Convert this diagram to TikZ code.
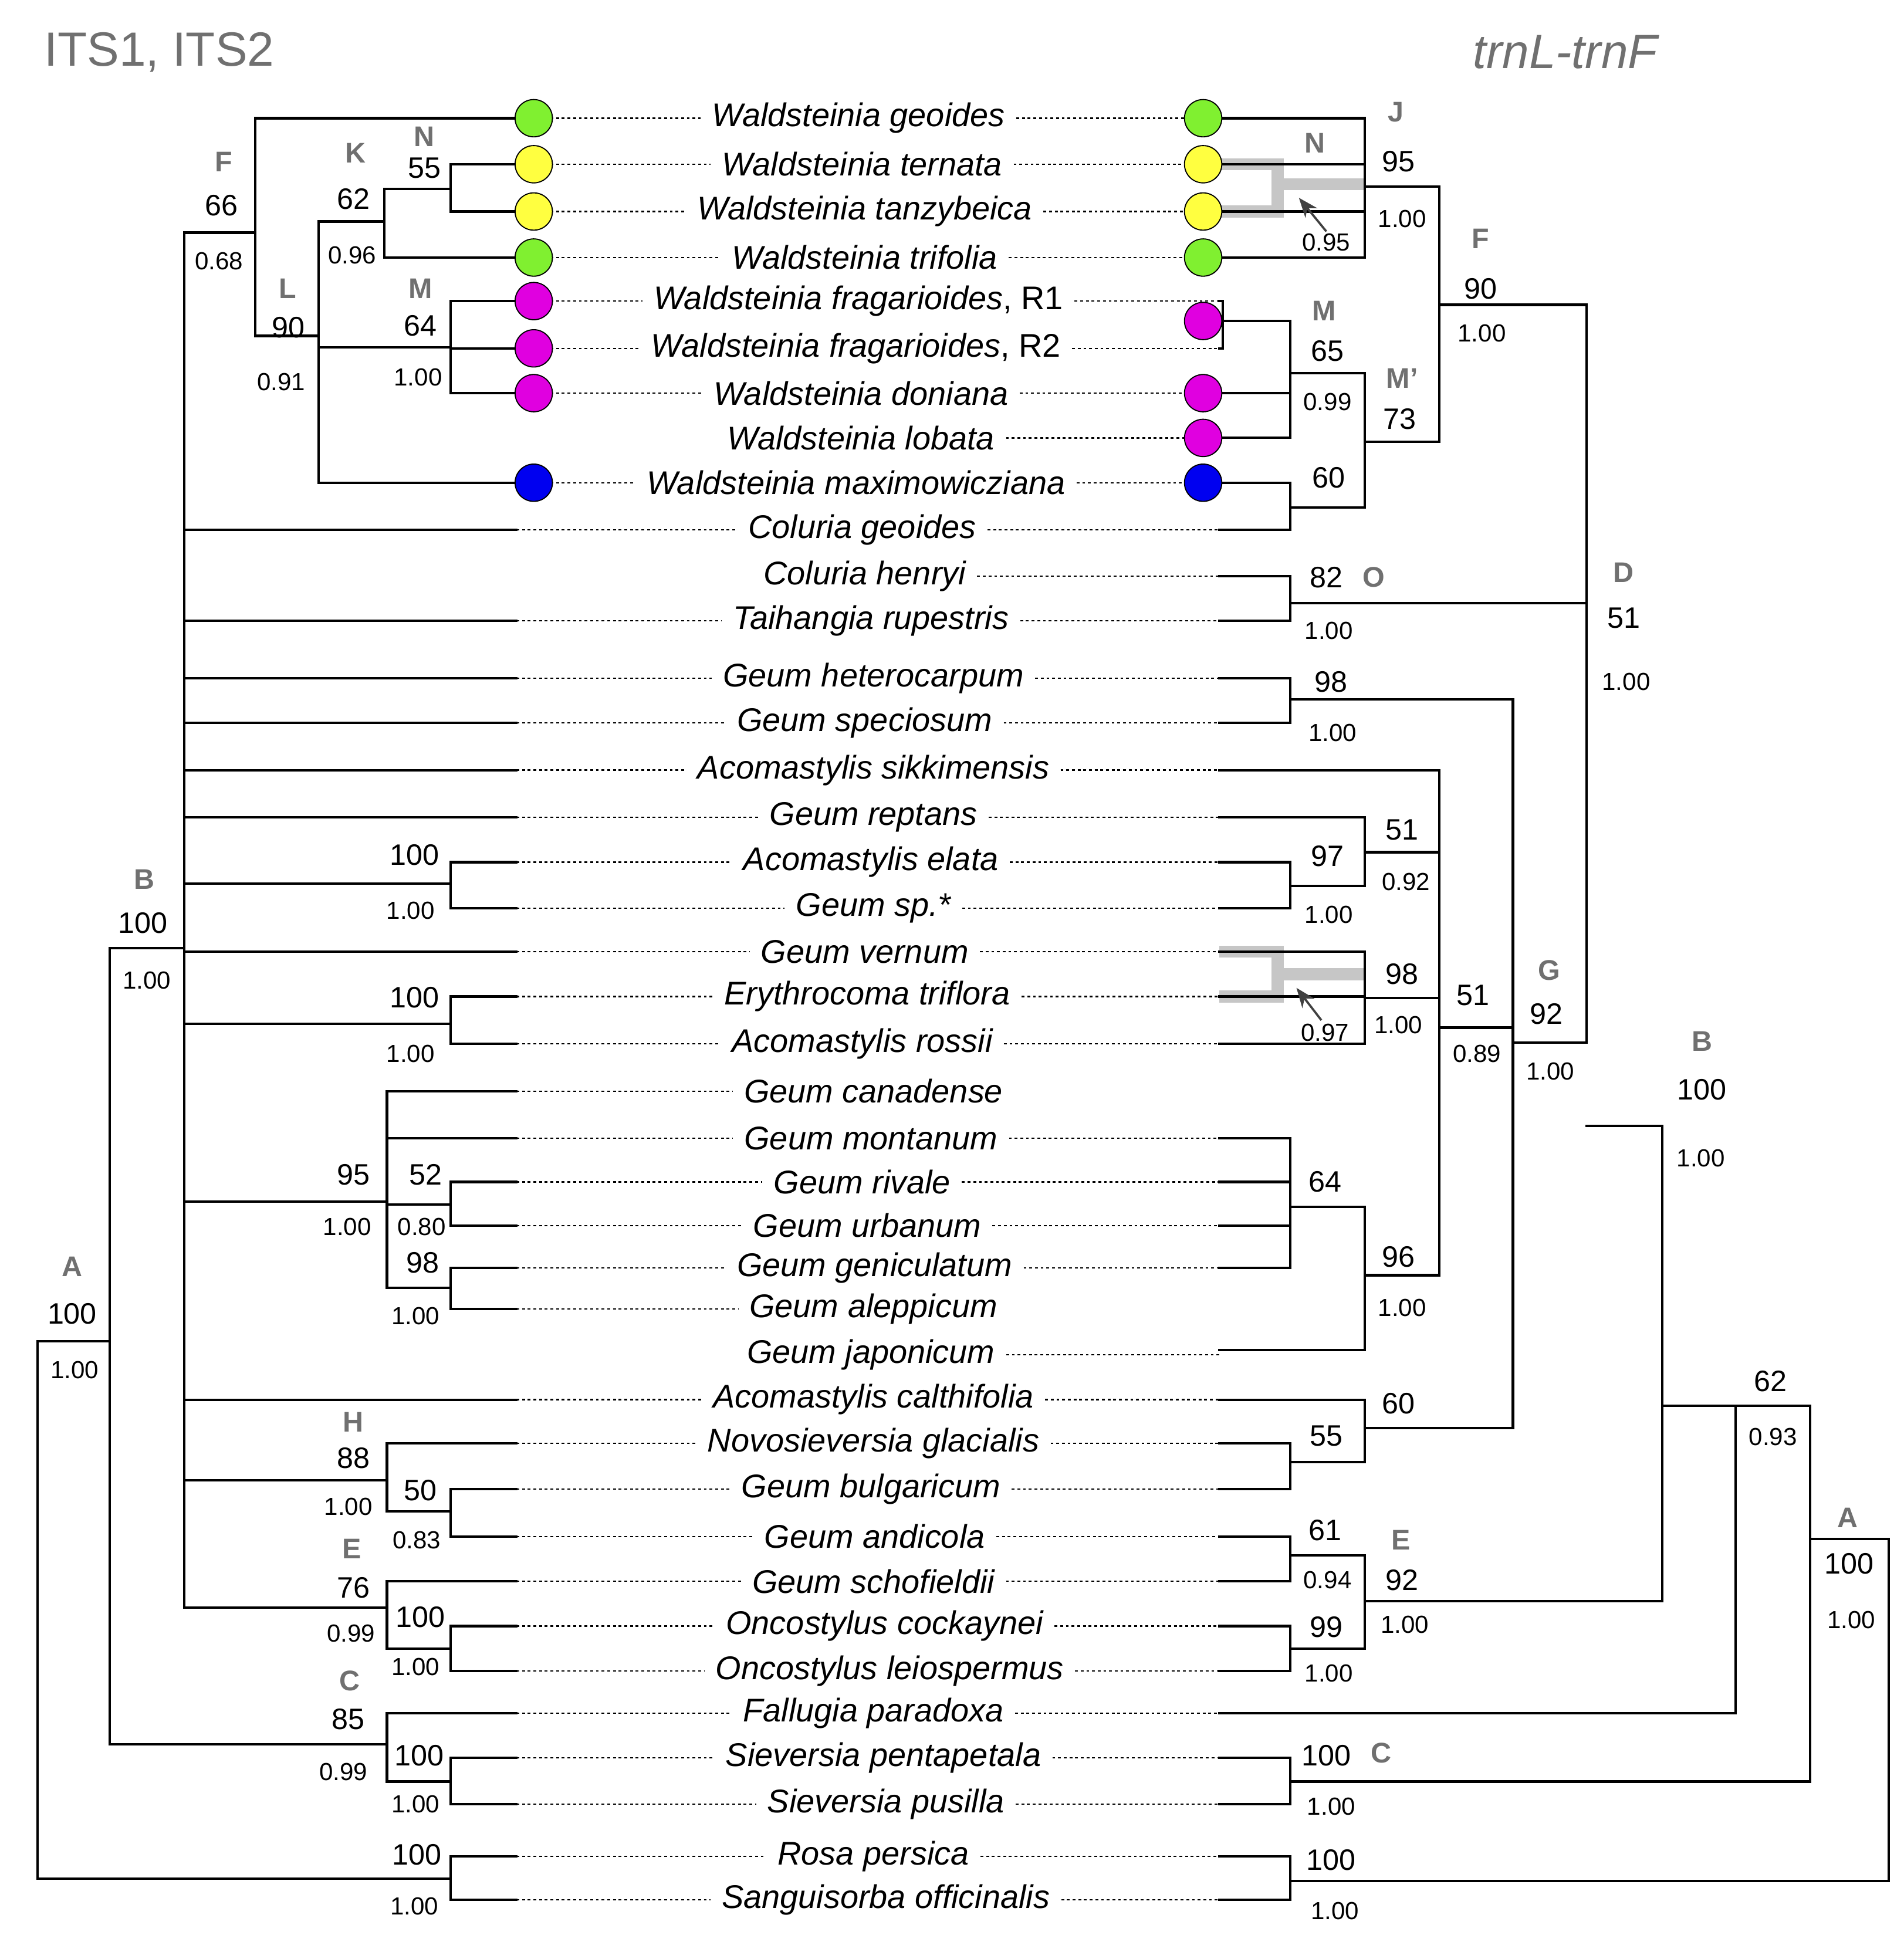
\documentclass[tikz,border=0pt]{standalone}
\usepackage{fontspec}
\setmainfont{Liberation Sans}
\usetikzlibrary{arrows.meta}
\definecolor{cg}{HTML}{80F030}\definecolor{cy}{HTML}{FFFF40}
\definecolor{cm}{HTML}{E000E0}\definecolor{cb}{HTML}{0000F0}
\definecolor{lg}{HTML}{707070}
\tikzset{
 br/.style={line width=1.1pt,line cap=rect},
 dotl/.style={line width=0.6pt,dash pattern=on 1.3pt off 1.3pt},
 taxon/.style={font=\fontsize{15}{16}\selectfont\itshape,inner xsep=5pt,inner ysep=1pt},
 sup/.style={font=\fontsize{13.5}{14}\selectfont,inner sep=0pt},
 pp/.style={font=\fontsize{11.3}{12}\selectfont,inner sep=0pt},
 let/.style={font=\fontsize{13}{14}\selectfont\bfseries,text=lg,inner sep=0pt},
 alt/.style={line width=5.5pt,color=gray!45},
 ball/.style={circle,draw=black,line width=0.5pt,minimum size=0.6cm,inner sep=0pt,fill=#1},
 arr/.style={-{Stealth[length=9pt,width=7pt]},line width=1pt,color=black!75}
}
\newcommand\tx[5]{\node[taxon] (t#1) at (#2,#1) {#3};
 \ifnum#4=1 \draw[dotl] (415,#1) -- (t#1.west);\fi
 \ifnum#5=1 \draw[dotl] (t#1.east) -- (980,#1);\fi}
\newcommand\hh[3]{\draw[br] (#2,#1)--(#3,#1);}
\newcommand\vv[3]{\draw[br] (#1,#2)--(#1,#3);}
\begin{document}
\begin{tikzpicture}[x=0.02cm,y=-0.02cm]
\useasboundingbox (0,0) rectangle (1530,1569);
\node[font=\fontsize{22}{24}\selectfont,text=lg] (h1) at (128,42) {ITS1, ITS2};
\node[font=\fontsize{22}{24}\selectfont\itshape,text=lg] (h2) at (1258,42) {trnL-trnF};
% gray alternatives
\draw[alt] (980,132)--(1032,132) (980,170)--(1032,170) (1027,128)--(1027,174) (1027,148)--(1097,148);
\draw[alt] (980,765)--(1032,765) (980,801)--(1032,801) (1027,761)--(1027,805) (1027,783)--(1097,783);
% taxa
\tx{95}{690}{Waldsteinia geoides}{1}{1}
\tx{132}{693}{Waldsteinia ternata}{1}{1}
\tx{170}{695}{Waldsteinia tanzybeica}{1}{1}
\tx{207}{695}{Waldsteinia trifolia}{1}{1}
\tx{242}{690}{Waldsteinia fragarioides\upshape, R1}{1}{1}
\tx{280}{688}{Waldsteinia fragarioides\upshape, R2}{1}{1}
\tx{316}{692}{Waldsteinia doniana}{1}{1}
\tx{352}{692}{Waldsteinia lobata}{0}{1}
\tx{388}{688}{Waldsteinia maximowicziana}{1}{1}
\tx{426}{693}{Coluria geoides}{1}{1}
\tx{463}{695}{Coluria henryi}{0}{1}
\tx{499}{700}{Taihangia rupestris}{1}{1}
\tx{545}{702}{Geum heterocarpum}{1}{1}
\tx{581}{695}{Geum speciosum}{1}{1}
\tx{619}{702}{Acomastylis sikkimensis}{1}{1}
\tx{657}{702}{Geum reptans}{1}{1}
\tx{693}{700}{Acomastylis elata}{1}{1}
\tx{730}{702}{Geum sp.*}{1}{1}
\tx{765}{695}{Geum vernum}{1}{1}
\tx{801}{697}{Erythrocoma triflora}{1}{1}
\tx{839}{693}{Acomastylis rossii}{1}{1}
\tx{877}{702}{Geum canadense}{1}{0}
\tx{915}{700}{Geum montanum}{1}{1}
\tx{950}{693}{Geum rivale}{1}{1}
\tx{985}{697}{Geum urbanum}{1}{1}
\tx{1019}{703}{Geum geniculatum}{1}{1}
\tx{1052}{702}{Geum aleppicum}{1}{0}
\tx{1089}{700}{Geum japonicum}{0}{1}
\tx{1125}{702}{Acomastylis calthifolia}{1}{1}
\tx{1160}{702}{Novosieversia glacialis}{1}{1}
\tx{1197}{700}{Geum bulgaricum}{1}{1}
\tx{1235}{703}{Geum andicola}{1}{1}
\tx{1271}{702}{Geum schofieldii}{1}{1}
\tx{1307}{711}{Oncostylus cockaynei}{1}{1}
\tx{1343}{715}{Oncostylus leiospermus}{1}{1}
\tx{1377}{702}{Fallugia paradoxa}{1}{1}
\tx{1413}{710}{Sieversia pentapetala}{1}{1}
\tx{1450}{712}{Sieversia pusilla}{1}{1}
\tx{1492}{702}{Rosa persica}{1}{1}
\tx{1527}{712}{Sanguisorba officinalis}{1}{1}
% left tree
\vv{30}{1078}{1510}\hh{1078}{30}{88}\hh{1510}{30}{362}
\vv{362}{1492}{1527}\hh{1492}{362}{415}\hh{1527}{362}{415}
\vv{88}{762}{1402}\hh{762}{88}{148}\hh{1402}{88}{311}
\vv{311}{1377}{1432}\hh{1377}{311}{415}\hh{1432}{311}{362}
\vv{362}{1413}{1450}\hh{1413}{362}{415}\hh{1450}{362}{415}
\vv{148}{187}{1292}\hh{187}{148}{205}
\vv{205}{95}{270}\hh{95}{205}{415}\hh{270}{205}{256}
\vv{256}{178}{388}\hh{178}{256}{309}\hh{388}{256}{415}
\vv{309}{152}{207}\hh{152}{309}{362}\hh{207}{309}{415}
\vv{362}{132}{170}\hh{132}{362}{415}\hh{170}{362}{415}
\hh{279}{256}{362}\vv{362}{242}{316}\hh{242}{362}{415}\hh{280}{362}{415}\hh{316}{362}{415}
\hh{426}{148}{415}\hh{499}{148}{415}\hh{545}{148}{415}\hh{581}{148}{415}
\hh{619}{148}{415}\hh{657}{148}{415}
\hh{710}{148}{362}\vv{362}{693}{730}\hh{693}{362}{415}\hh{730}{362}{415}
\hh{765}{148}{415}
\hh{823}{148}{362}\vv{362}{801}{839}\hh{801}{362}{415}\hh{839}{362}{415}
\hh{966}{148}{311}\vv{311}{877}{1035}\hh{877}{311}{415}\hh{915}{311}{415}
\vv{362}{950}{985}\hh{950}{362}{415}\hh{985}{362}{415}\hh{968}{311}{362}
\hh{1035}{311}{362}\vv{362}{1019}{1052}\hh{1019}{362}{415}\hh{1052}{362}{415}
\hh{1125}{148}{415}
\hh{1190}{148}{311}\vv{311}{1160}{1215}\hh{1160}{311}{415}\hh{1215}{311}{362}
\vv{362}{1197}{1235}\hh{1197}{362}{415}\hh{1235}{362}{415}
\hh{1292}{148}{311}\vv{311}{1271}{1325}\hh{1271}{311}{415}\hh{1325}{311}{362}
\vv{362}{1307}{1343}\hh{1307}{362}{415}\hh{1343}{362}{415}
% right tree
\vv{1097}{95}{207}\hh{95}{980}{1097}\hh{132}{980}{1097}\hh{170}{980}{1097}\hh{207}{980}{1097}
\hh{150}{1097}{1157}\vv{1157}{150}{355}\hh{355}{1097}{1157}
\hh{242}{980}{983}\hh{280}{980}{983}\vv{983}{242}{280}\hh{258}{983}{1037}
\vv{1037}{258}{352}\hh{316}{980}{1037}\hh{352}{980}{1037}\hh{300}{1037}{1097}
\vv{1097}{300}{408}\hh{408}{1037}{1097}\vv{1037}{388}{426}\hh{388}{980}{1037}\hh{426}{980}{1037}
\hh{245}{1157}{1275}\vv{1275}{245}{838}
\vv{1037}{463}{499}\hh{463}{980}{1037}\hh{499}{980}{1037}\hh{485}{1037}{1275}
\hh{838}{1216}{1275}\vv{1216}{562}{1148}
\vv{1037}{545}{581}\hh{545}{980}{1037}\hh{581}{980}{1037}\hh{562}{1037}{1216}
\vv{1157}{619}{1025}\hh{619}{980}{1157}\hh{826}{1157}{1216}
\vv{1097}{657}{712}\hh{657}{980}{1097}\hh{685}{1097}{1157}
\vv{1037}{693}{730}\hh{693}{980}{1037}\hh{730}{980}{1037}\hh{712}{1037}{1097}
\vv{1097}{765}{839}\hh{765}{980}{1097}\hh{801}{980}{1097}\hh{839}{980}{1097}\hh{802}{1097}{1157}
\hh{1025}{1097}{1157}\vv{1097}{970}{1085}\hh{1085}{980}{1097}
\vv{1037}{915}{1019}\hh{915}{980}{1037}\hh{950}{980}{1037}\hh{985}{980}{1037}\hh{1019}{980}{1037}\hh{970}{1037}{1097}
\hh{1148}{1097}{1216}\vv{1097}{1125}{1175}\hh{1125}{980}{1097}
\vv{1037}{1160}{1197}\hh{1160}{980}{1037}\hh{1197}{980}{1037}\hh{1175}{1037}{1097}
\hh{905}{1275}{1336}\vv{1336}{905}{1287}\hh{1287}{1097}{1336}
\vv{1097}{1250}{1325}\vv{1037}{1235}{1271}\hh{1235}{980}{1037}\hh{1271}{980}{1037}\hh{1250}{1037}{1097}
\vv{1037}{1307}{1343}\hh{1307}{980}{1037}\hh{1343}{980}{1037}\hh{1325}{1037}{1097}
\hh{1130}{1336}{1395}\vv{1395}{1130}{1377}\hh{1377}{980}{1395}
\hh{1130}{1395}{1455}\vv{1455}{1130}{1432}\hh{1432}{1037}{1455}
\vv{1037}{1413}{1450}\hh{1413}{980}{1037}\hh{1450}{980}{1037}
\hh{1237}{1455}{1518}\vv{1518}{1237}{1512}\hh{1512}{1037}{1518}
\vv{1037}{1492}{1527}\hh{1492}{980}{1037}\hh{1527}{980}{1037}
% arrows
\coordinate (a1) at (1066,186);\coordinate (b1) at (1044,159);
\coordinate (a2) at (1062,820);\coordinate (b2) at (1042,794);
\draw[arr] (a1)--(b1);\draw[arr] (a2)--(b2);
% balls
\foreach \y/\c in {95/cg,132/cy,170/cy,207/cg,242/cm,280/cm,316/cm,388/cb}{\node[ball=\c] at (429,\y) {};}
\foreach \y/\c in {95/cg,132/cy,170/cy,207/cg,258/cm,316/cm,352/cm,388/cb}{\node[ball=\c] at (967,\y) {};}
% left labels
\node[let] at (180,130){F};\node[sup] at (178,165){66};\node[pp] at (176,210){0.68};
\node[let] at (286,123){K};\node[sup] at (284,160){62};\node[pp] at (283,205){0.96};
\node[let] at (341,110){N};\node[sup] at (341,135){55};
\node[let] at (231,232){L};\node[sup] at (232,263){90};\node[pp] at (226,307){0.91};
\node[let] at (338,232){M};\node[sup] at (338,262){64};\node[pp] at (336,303){1.00};
\node[let] at (116,707){B};\node[sup] at (115,742){100};\node[pp] at (118,788){1.00};
\node[sup] at (333,687){100};\node[pp] at (330,732){1.00};
\node[sup] at (333,802){100};\node[pp] at (330,847){1.00};
\node[sup] at (284,944){95};\node[pp] at (279,986){1.00};
\node[sup] at (342,944){52};\node[pp] at (339,986){0.80};
\node[sup] at (340,1015){98};\node[pp] at (334,1058){1.00};
\node[let] at (58,1018){A};\node[sup] at (58,1056){100};\node[pp] at (60,1101){1.00};
\node[let] at (284,1143){H};\node[sup] at (284,1172){88};\node[pp] at (280,1211){1.00};
\node[sup] at (338,1198){50};\node[pp] at (335,1238){0.83};
\node[let] at (283,1245){E};\node[sup] at (284,1276){76};\node[pp] at (282,1313){0.99};
\node[sup] at (338,1300){100};\node[pp] at (334,1340){1.00};
\node[let] at (281,1351){C};\node[sup] at (280,1382){85};\node[pp] at (276,1424){0.99};
\node[sup] at (337,1411){100};\node[pp] at (334,1450){1.00};
\node[sup] at (335,1491){100};\node[pp] at (333,1532){1.00};
% right labels
\node[let] at (1122,90){J};\node[sup] at (1124,130){95};\node[pp] at (1127,176){1.00};
\node[let] at (1057,115){N};\node[pp] at (1066,195){0.95};
\node[let] at (1190,192){F};\node[sup] at (1190,232){90};\node[pp] at (1191,268){1.00};
\node[let] at (1064,250){M};\node[sup] at (1067,282){65};\node[pp] at (1067,323){0.99};
\node[let] at (1127,304){M'};\node[sup] at (1125,337){73};
\node[sup] at (1068,384){60};
\node[sup] at (1066,464){82};\node[let] at (1104,464){O};\node[pp] at (1068,507){1.00};
\node[let] at (1305,460){D};\node[sup] at (1305,497){51};\node[pp] at (1307,548){1.00};
\node[sup] at (1070,548){98};\node[pp] at (1071,589){1.00};
\node[sup] at (1127,667){51};\node[pp] at (1130,709){0.92};
\node[sup] at (1067,688){97};\node[pp] at (1068,735){1.00};
\node[sup] at (1127,783){98};\node[pp] at (1124,824){1.00};\node[pp] at (1065,830){0.97};
\node[sup] at (1184,800){51};\node[pp] at (1187,847){0.89};
\node[let] at (1245,780){G};\node[sup] at (1243,815){92};\node[pp] at (1246,861){1.00};
\node[let] at (1368,837){B};\node[sup] at (1368,876){100};\node[pp] at (1367,931){1.00};
\node[sup] at (1065,950){64};
\node[sup] at (1124,1010){96};\node[pp] at (1127,1051){1.00};
\node[sup] at (1124,1128){60};
\node[sup] at (1066,1154){55};
\node[sup] at (1423,1110){62};\node[pp] at (1425,1155){0.93};
\node[let] at (1485,1220){A};\node[sup] at (1486,1257){100};\node[pp] at (1488,1302){1.00};
\node[sup] at (1065,1230){61};\node[pp] at (1067,1270){0.94};
\node[let] at (1126,1238){E};\node[sup] at (1127,1270){92};\node[pp] at (1129,1306){1.00};
\node[sup] at (1066,1308){99};\node[pp] at (1068,1345){1.00};
\node[sup] at (1066,1411){100};\node[let] at (1110,1409){C};\node[pp] at (1070,1452){1.00};
\node[sup] at (1070,1495){100};\node[pp] at (1073,1536){1.00};
\end{tikzpicture}
\end{document}
